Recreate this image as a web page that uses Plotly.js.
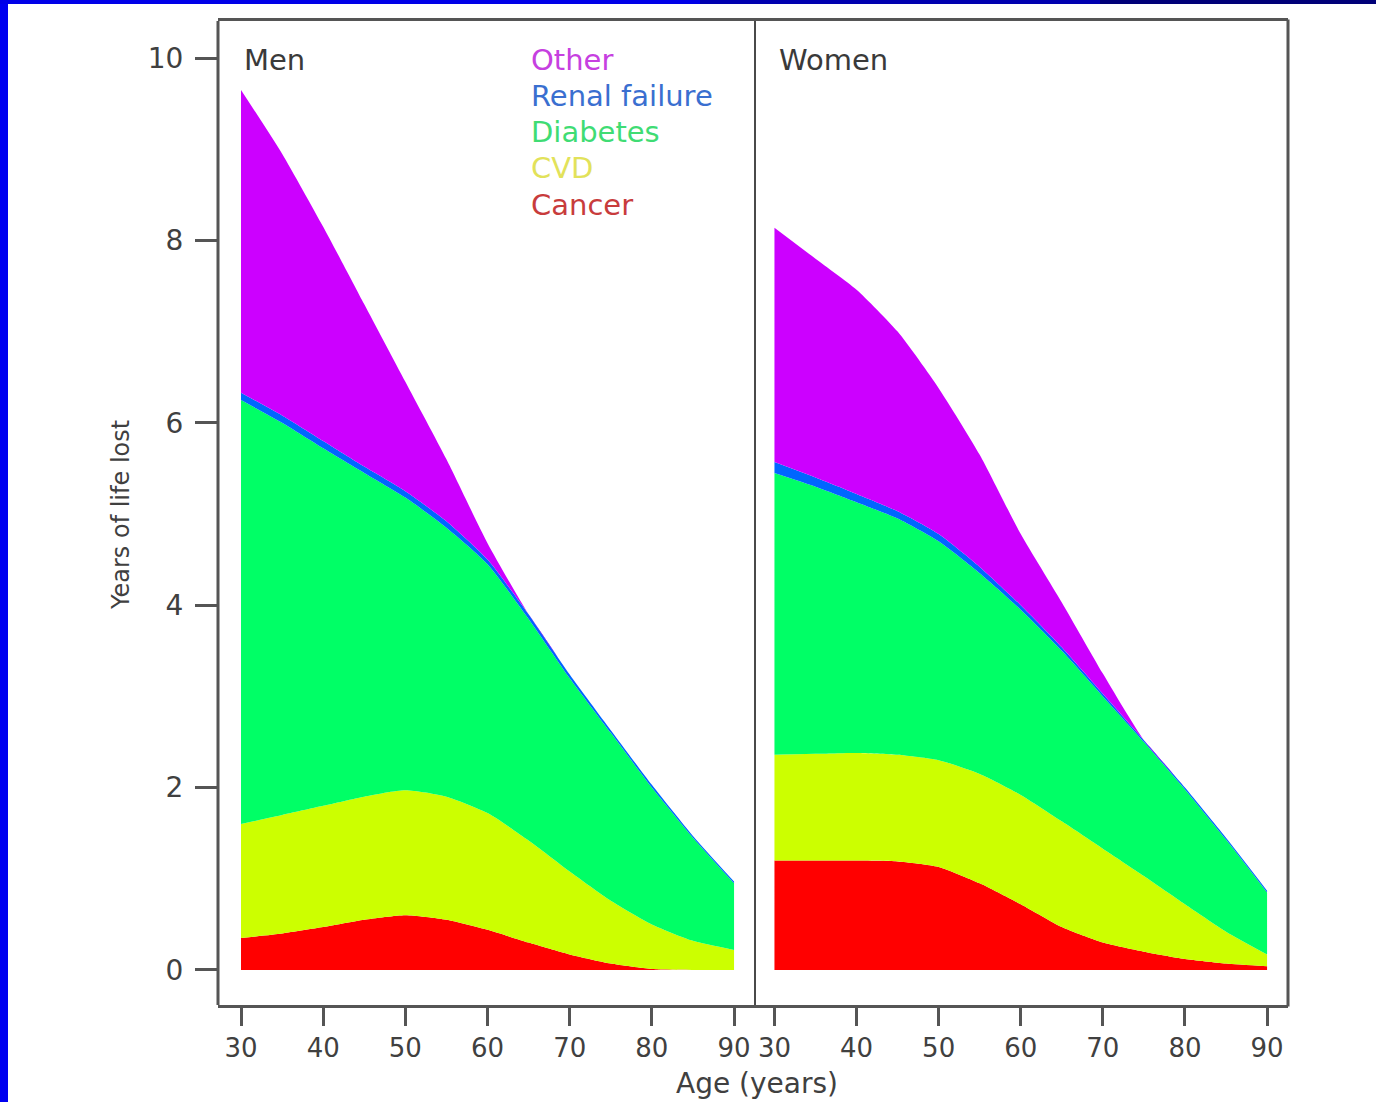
<!DOCTYPE html>
<html>
<head>
<meta charset="utf-8">
<script src="https://cdn.plot.ly/plotly-3.0.1.min.js"></script>
<style>
  html, body { margin: 0; padding: 0; background: #ffffff; }
  #chart { width: 1376px; height: 1102px; }
</style>
</head>
<body>
<div id="chart"></div>
<script>
// ---- Data (years of life lost, contribution of each cause) ----
const ages = [30, 35, 40, 45, 50, 55, 60, 65, 70, 75, 80, 85, 90];

const menCancer   = [0.35, 0.40, 0.47, 0.55, 0.60, 0.55, 0.44, 0.30, 0.17, 0.07, 0.01, 0.00, 0.00];
const menCVD      = [1.25, 1.30, 1.33, 1.35, 1.37, 1.35, 1.28, 1.12, 0.91, 0.69, 0.49, 0.32, 0.22];
const menDiabetes = [4.65, 4.30, 3.92, 3.55, 3.21, 2.95, 2.73, 2.43, 2.12, 1.84, 1.50, 1.13, 0.73];
const menRenal    = [0.08, 0.08, 0.08, 0.07, 0.07, 0.07, 0.05, 0.05, 0.04, 0.03, 0.03, 0.02, 0.02];
const menOther    = [3.32, 2.87, 2.35, 1.78, 1.20, 0.68, 0.18, 0.00, 0.00, 0.00, 0.00, 0.00, 0.00];

const womenCancer   = [1.20, 1.20, 1.20, 1.19, 1.13, 0.95, 0.72, 0.47, 0.30, 0.20, 0.12, 0.07, 0.04];
const womenCVD      = [1.16, 1.17, 1.18, 1.17, 1.17, 1.20, 1.20, 1.16, 1.03, 0.83, 0.60, 0.35, 0.13];
const womenDiabetes = [3.09, 2.93, 2.75, 2.59, 2.40, 2.20, 2.03, 1.87, 1.67, 1.47, 1.26, 1.01, 0.68];
const womenRenal    = [0.12, 0.10, 0.09, 0.08, 0.08, 0.07, 0.05, 0.04, 0.03, 0.02, 0.02, 0.02, 0.02];
const womenOther    = [2.57, 2.40, 2.24, 1.97, 1.60, 1.23, 0.78, 0.49, 0.22, 0.00, 0.00, 0.00, 0.00];

const causes = ["Cancer", "CVD", "Diabetes", "Renal failure", "Other"];
const fillColors = ["#FF0000", "#CCFF00", "#00FF66", "#0066FF", "#CC00FF"];
const legendOrder = ["Other", "Renal failure", "Diabetes", "CVD", "Cancer"];
const legendColors = {"Other": "#c640e0", "Renal failure": "#3a6fd0", "Diabetes": "#3fdc74", "CVD": "#e2e25a", "Cancer": "#c83c3c"};

const panelLabels = ["Men", "Women"];
const xTicks = [30, 40, 50, 60, 70, 80, 90];
const yTicks = [0, 2, 4, 6, 8, 10];

// ---- Traces ----
const menSeries = [menCancer, menCVD, menDiabetes, menRenal, menOther];
const womenSeries = [womenCancer, womenCVD, womenDiabetes, womenRenal, womenOther];

const traces = [];
function addPanel(series, group, xa, ya) {
  series.forEach((vals, i) => {
    traces.push({
      x: ages, y: vals, name: causes[i], type: "scatter", mode: "none",
      stackgroup: group, fillcolor: fillColors[i],
      line: {width: 0, shape: "spline", smoothing: 0.6},
      xaxis: xa, yaxis: ya, showlegend: false, hoverinfo: "x+y+name"
    });
  });
}
addPanel(menSeries, "men", "x", "y");
addPanel(womenSeries, "women", "x2", "y2");

// ---- Layout ----
const W = 1376, H = 1102;
const px = v => v / W;
const py = v => 1 - v / H;

const fontFam = "DejaVu Sans, Liberation Sans, Arial, sans-serif";
const frameColor = "#555555";

const xCommon = {
  tickmode: "array", tickvals: xTicks, ticks: "outside", ticklen: 18, tickwidth: 3,
  tickcolor: frameColor, showline: true, linecolor: frameColor, linewidth: 3, mirror: true,
  showgrid: false, zeroline: false, tickfont: {family: fontFam, size: 26, color: "#404040"},
  ticklabelstandoff: 0, fixedrange: true
};
const yCommon = {
  range: [-0.384, 10.406], showgrid: false, zeroline: false, fixedrange: true,
  domain: [py(1005), py(21)]
};

const annotations = [];
const labelFont = {family: fontFam, size: 29, color: "#3a3a3a"};
annotations.push({text: panelLabels[0], xref: "paper", yref: "paper", x: px(242), y: py(60),
  xanchor: "left", yanchor: "middle", showarrow: false, font: labelFont});
annotations.push({text: panelLabels[1], xref: "paper", yref: "paper", x: px(777), y: py(60),
  xanchor: "left", yanchor: "middle", showarrow: false, font: labelFont});

const legendY = [60, 96, 132, 168, 205];
legendOrder.forEach((name, i) => {
  annotations.push({text: name, xref: "paper", yref: "paper", x: px(529), y: py(legendY[i]),
    xanchor: "left", yanchor: "middle", showarrow: false,
    font: {family: fontFam, size: 29, color: legendColors[name]}});
});

annotations.push({text: "Age (years)", xref: "paper", yref: "paper", x: px(757), y: py(1083),
  xanchor: "center", yanchor: "middle", showarrow: false,
  font: {family: fontFam, size: 28, color: "#404040"}});
annotations.push({text: "Years of life lost", xref: "paper", yref: "paper", x: px(121), y: py(515),
  xanchor: "center", yanchor: "middle", textangle: -90, showarrow: false,
  font: {family: fontFam, size: 24, color: "#404040"}});

const shapes = [
  // panel borders (left, divider, right)
  {type: "line", xref: "paper", yref: "paper", x0: px(218), x1: px(218), y0: py(1005), y1: py(21), line: {color: frameColor, width: 3}},
  {type: "line", xref: "paper", yref: "paper", x0: px(755), x1: px(755), y0: py(1005), y1: py(21), line: {color: "#4a4a4a", width: 2}},
  {type: "line", xref: "paper", yref: "paper", x0: px(1288), x1: px(1288), y0: py(1006.5), y1: py(19.5), line: {color: frameColor, width: 3}},
  // blue slide frame
  {type: "rect", xref: "paper", yref: "paper", x0: 0, x1: px(8), y0: 0, y1: 1, fillcolor: "#0000F0", line: {width: 0}, layer: "above"},
  {type: "rect", xref: "paper", yref: "paper", x0: 0, x1: px(700), y0: py(4), y1: 1, fillcolor: "#0000E8", line: {width: 0}, layer: "above"},
  {type: "rect", xref: "paper", yref: "paper", x0: px(700), x1: px(1100), y0: py(4), y1: 1, fillcolor: "#0000B0", line: {width: 0}, layer: "above"},
  {type: "rect", xref: "paper", yref: "paper", x0: px(1100), x1: 1, y0: py(4), y1: 1, fillcolor: "#000078", line: {width: 0}, layer: "above"}
];

const layout = {
  width: W, height: H,
  margin: {l: 0, r: 0, t: 0, b: 0, pad: 0},
  paper_bgcolor: "#ffffff", plot_bgcolor: "#ffffff",
  showlegend: false,
  xaxis: Object.assign({}, xCommon, {domain: [px(218), px(755)], range: [27.2, 92.55], anchor: "y"}),
  xaxis2: Object.assign({}, xCommon, {domain: [px(755), px(1288)], range: [27.63, 92.55], anchor: "y2"}),
  yaxis: Object.assign({}, yCommon, {anchor: "x", showline: false, tickmode: "array", tickvals: yTicks,
    ticks: "outside", ticklen: 22, tickwidth: 3, tickcolor: frameColor,
    tickfont: {family: fontFam, size: 28, color: "#404040"}, ticklabelstandoff: 6}),
  yaxis2: Object.assign({}, yCommon, {anchor: "x2", showline: false, showticklabels: false, ticks: ""}),
  annotations: annotations,
  shapes: shapes
};

Plotly.newPlot("chart", traces, layout, {displayModeBar: false, staticPlot: true});
</script>
</body>
</html>
